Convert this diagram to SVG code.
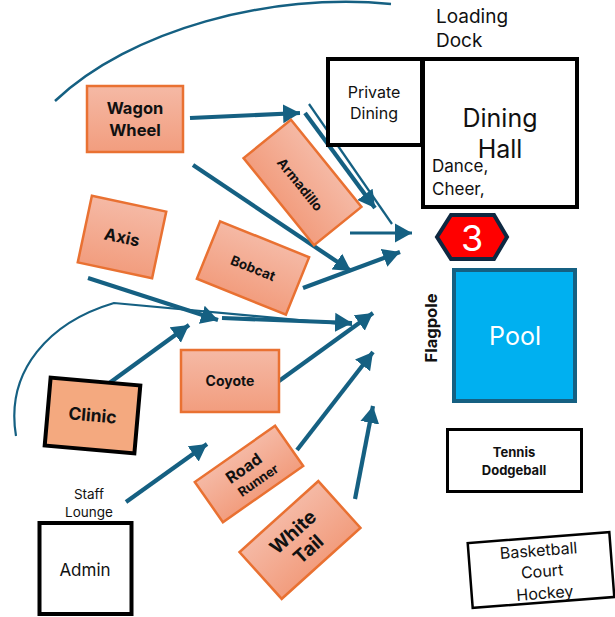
<svg xmlns="http://www.w3.org/2000/svg" width="615" height="617" viewBox="0 0 615 617">
<style>
text{font-family:"Inter","Noto Sans","Liberation Sans",sans-serif;fill:#111;text-anchor:middle}
.b{font-weight:700}
.s{text-anchor:start}
.w{fill:#fff;font-weight:300}
.o{fill:url(#og);stroke:#E97132;stroke-width:2.5}
.k{fill:#fff;stroke:#000;stroke-width:4}
.a{fill:none;stroke:#156082;stroke-width:4.200;marker-end:url(#ah)}
.t{fill:none;stroke:#156082;stroke-width:2.200}
</style>
<defs>
<linearGradient id="og" x1="0" y1="0" x2="0" y2="1"><stop offset="0" stop-color="#F5B9A5"/><stop offset="1" stop-color="#F29D7E"/></linearGradient>
<marker id="ah" markerUnits="userSpaceOnUse" markerWidth="20" markerHeight="20" refX="17" refY="10" orient="auto"><path d="M0 0.500L17 10L0 19.500Z" fill="#156082"/></marker>
</defs>
<g id="connectors">
<path class="t" d="M55 101C130 30 270 -8 391 4" style="stroke-width:2.500"/>
<path class="t" d="M16 436C5 370 50 322 114 303L352 325"/>
<path class="a" d="M190 118L300 113"/>
<path class="a" d="M193 165L351 271"/>
<path class="a" d="M305 113L375 208"/>
<path class="t" d="M309 104L392 224"/>
<path class="a" style="stroke-width:3" d="M350 233L412 233"/>
<path class="a" d="M303 288L400 252"/>
<path class="a" d="M88 278L218 320"/>
<path class="a" d="M222 318L352 323"/>
<path class="a" d="M108 384L189 325"/>
<path class="a" d="M279 381L373 313"/>
<path class="a" d="M297 450L373 352"/>
<path class="a" d="M355 499L373 406"/>
<path class="a" d="M126 502L207 444"/>
</g>
<g id="wagon-wheel"><rect class="o" x="87" y="86" width="96" height="66"/><text class="b" font-size="16.500" x="135" y="114">Wagon</text><text class="b" font-size="16.500" x="135" y="136">Wheel</text></g>
<g id="armadillo" transform="translate(302.500 182.500) rotate(51)"><rect class="o" x="-56" y="-30.500" width="112" height="61"/><text class="b" font-size="13.500" y="8">Armadillo</text></g>
<g id="axis" transform="translate(122 237) rotate(12)"><rect class="o" x="-38" y="-34" width="76" height="68"/><text class="b" font-size="16.500" y="6">Axis</text></g>
<g id="bobcat" transform="translate(253 268) rotate(22)"><rect class="o" x="-48" y="-31" width="96" height="62"/><text class="b" font-size="13.500" y="5">Bobcat</text></g>
<g id="clinic" transform="translate(92.500 415.500) rotate(5)"><rect x="-45" y="-34" width="90" height="68" fill="#F4A97F" stroke="#000" stroke-width="4"/><text class="b" font-size="17.500" y="6">Clinic</text></g>
<g id="coyote"><rect class="o" x="181" y="350" width="98" height="62"/><text class="b" font-size="14" x="230" y="386">Coyote</text></g>
<g id="road-runner" transform="translate(249 474) rotate(-35)"><rect class="o" x="-49" y="-24.500" width="98" height="49"/><text class="b" font-size="16" y="-2" x="-1">Road</text><text class="b" font-size="13" y="15" x="4">Runner</text></g>
<g id="white-tail" transform="translate(300 540) rotate(-42)"><rect class="o" x="-53" y="-31.500" width="106" height="63"/><text class="b" font-size="19" y="-4">White</text><text class="b" font-size="19" y="19">Tail</text></g>
<g id="admin"><rect class="k" x="39.500" y="523" width="92" height="91"/><text font-size="17" x="85" y="576">Admin</text></g>
<g id="staff-lounge"><text font-size="13.500" x="89" y="499">Staff</text><text font-size="13.500" x="89" y="517">Lounge</text></g>
<g id="private-dining"><rect class="k" x="328" y="59" width="94" height="86"/><text font-size="16" x="374" y="98">Private</text><text font-size="16" x="374" y="119">Dining</text></g>
<g id="dining-hall"><rect class="k" x="423" y="59" width="154" height="148"/><text font-size="25" x="500" y="127">Dining</text><text font-size="25" x="500" y="158">Hall</text><text class="s" font-size="17" x="432" y="172">Dance,</text><text class="s" font-size="17" x="432" y="195">Cheer,</text></g>
<g id="loading-dock"><text class="s" font-size="19" x="436" y="23">Loading</text><text class="s" font-size="19" x="436" y="47">Dock</text></g>
<g id="badge-3"><polygon points="437,237 451,215 494,215 507,237 494,259 451,259" fill="#F00" stroke="#0E2841" stroke-width="4"/><text class="w" font-size="36" x="472" y="251" style="font-weight:400">3</text></g>
<g id="flagpole"><text class="b" font-size="16.500" transform="translate(437 328) rotate(-90)">Flagpole</text></g>
<g id="pool"><rect x="454" y="270" width="121" height="131" fill="#00B0F0" stroke="#156082" stroke-width="4"/><text class="w" font-size="25" x="515" y="345" style="font-weight:400">Pool</text></g>
<g id="tennis"><rect x="447.500" y="429.500" width="134" height="62" fill="#fff" stroke="#000" stroke-width="3"/><text class="b" font-size="13" x="514" y="457">Tennis</text><text class="b" font-size="13" x="514" y="475">Dodgeball</text></g>
<g id="basketball" transform="translate(541 570) rotate(-4.400)"><rect x="-71" y="-32.500" width="142" height="65" fill="#fff" stroke="#000" stroke-width="2.500"/><text font-size="16" y="-14" x="-1">Basketball</text><text font-size="16" y="7" x="1">Court</text><text font-size="16" y="29" x="2">Hockey</text></g>
</svg>
